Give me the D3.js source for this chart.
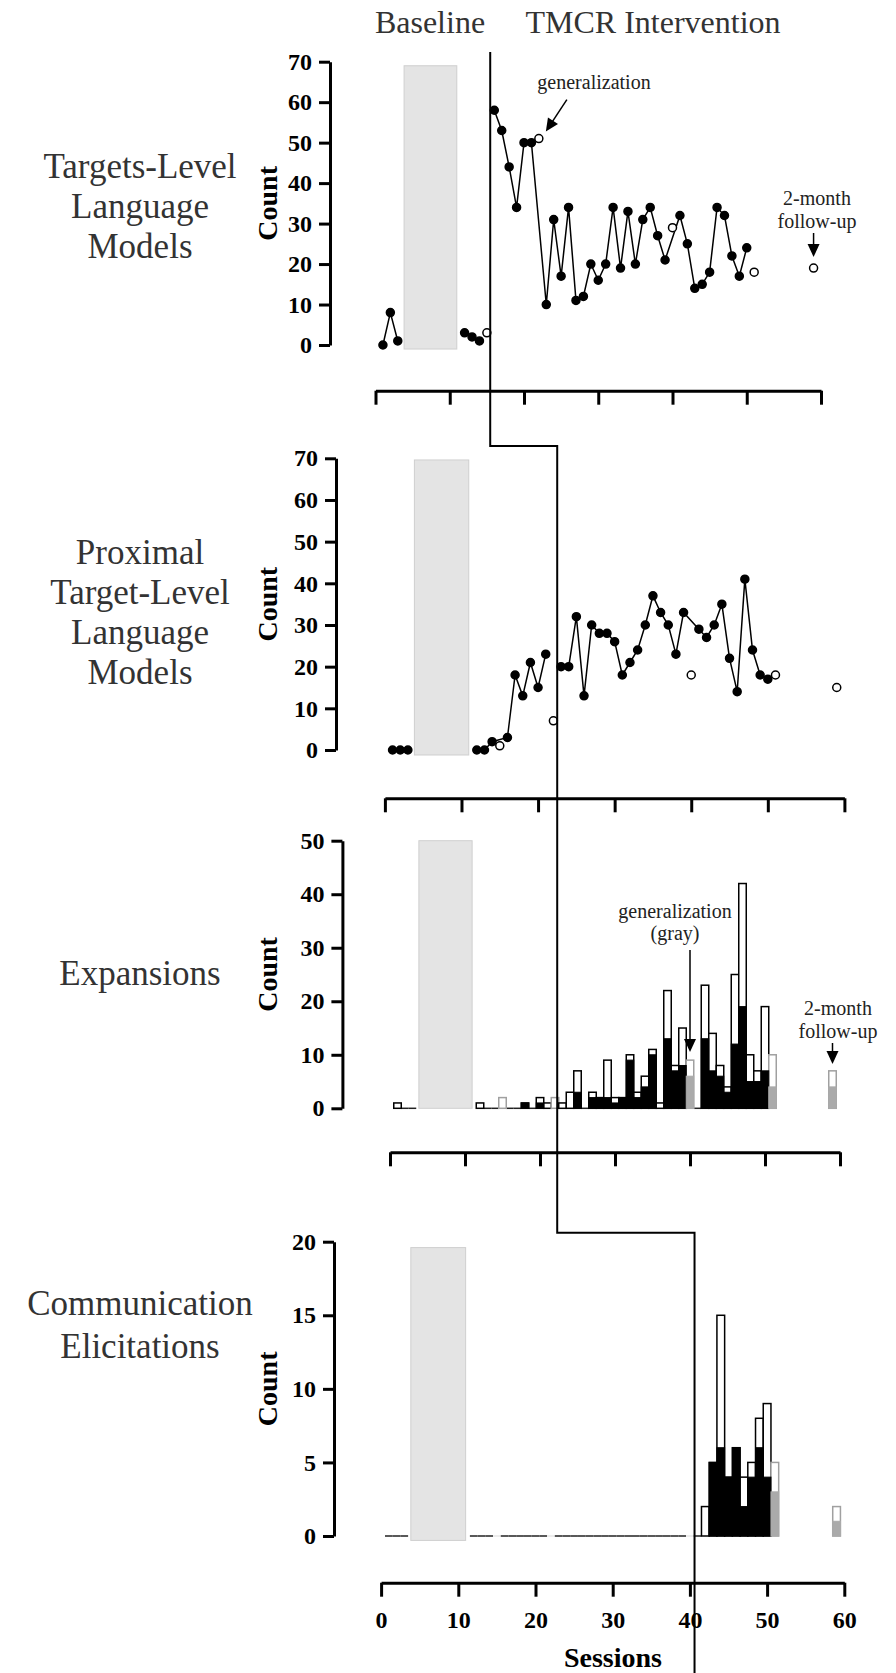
<!DOCTYPE html>
<html>
<head>
<meta charset="utf-8">
<script src="https://cdn.jsdelivr.net/npm/d3@7"></script>
<style>
  body { margin: 0; background: #fff; }
  svg text { font-family: "Liberation Serif", "Times New Roman", serif; }
</style>
</head>
<body>
<div id="chart"></div>
<script>
// sessions that were run (4-11 fall in the gray gap)
const sessions = [1, 2, 3, 12, 13, 14, 15, 16, 17, 18, 19, 20, 21, 22, 23, 24, 25, 26, 27, 28, 29, 30,
    31, 32, 33, 34, 35, 36, 37, 38, 39, 40, 41, 42, 43, 44, 45, 46, 47, 48, 49, 50, 51, 59];
// generalization probes (open circles / gray bars)
const probeSessions = [15, 22, 40, 51, 59];

const targetModels = [0, 8, 1, 3, 2, 1, 3, 58, 53, 44, 34, 50, 50, 51, 10, 31, 17, 34, 11, 12, 20, 16,
    20, 34, 19, 33, 20, 31, 34, 27, 21, 29, 32, 25, 14, 15, 18, 34, 32, 22, 17, 24, 18, 19];
const proximalModels = [0, 0, 0, 0, 0, 2, 1, 3, 18, 13, 21, 15, 23, 7, 20, 20, 32, 13, 30, 28, 28, 26,
    18, 21, 24, 30, 37, 33, 30, 23, 33, 18, 29, 27, 30, 35, 22, 14, 41, 24, 18, 17, 18, 15];
// bar totals (white) and trained part (black, gray on probes)
const expansionsTotal = [1, 0, 0, 1, 0, 0, 2, 0, 0, 1, 0, 2, 1, 2, 1, 3, 7, 0, 3, 2, 9, 2,
    2, 10, 3, 6, 11, 1, 22, 8, 15, 9, 0, 23, 14, 8, 4, 25, 42, 10, 7, 19, 10, 7];
const expansionsPart = [0, 0, 0, 0, 0, 0, 0, 0, 0, 1, 0, 1, 0, 0, 0, 0, 3, 0, 2, 2, 2, 1,
    2, 9, 2, 4, 10, 0, 13, 7, 8, 6, 0, 13, 7, 6, 3, 12, 19, 5, 5, 7, 4, 4];
const elicitTotal = [0, 0, 0, 0, 0, 0, 0, 0, 0, 0, 0, 0, 0, 0, 0, 0, 0, 0, 0, 0, 0, 0,
    0, 0, 0, 0, 0, 0, 0, 0, 0, 0, 0, 2, 5, 15, 4, 6, 4, 5, 8, 9, 5, 2];
const elicitPart = [0, 0, 0, 0, 0, 0, 0, 0, 0, 0, 0, 0, 0, 0, 0, 0, 0, 0, 0, 0, 0, 0,
    0, 0, 0, 0, 0, 0, 0, 0, 0, 0, 0, 0, 5, 6, 4, 6, 2, 4, 6, 4, 3, 1];

const sessionTicks = [0, 10, 20, 30, 40, 50, 60];
const countTicks70 = [0, 10, 20, 30, 40, 50, 60, 70];
const countTicks50 = [0, 10, 20, 30, 40, 50];
const countTicks20 = [0, 5, 10, 15, 20];
const phaseChange = [15.45, 22.5, 22.5, 40.6];
const breakSessions = [3.85, 10.95];

const panelSpecs = [
    { label: ["Targets-Level", "Language", "Models"], ticks: countTicks70, top: 61.7, bottom: 345,
      axisX: 330, left: 375.5, right: 821, xAxisY: 390.7, labelY: 206, lineGap: 40, gray: [-1, 69] },
    { label: ["Proximal", "Target-Level", "Language", "Models"], ticks: countTicks70, top: 458.3, bottom: 750,
      axisX: 336, left: 384.9, right: 844.4, xAxisY: 798.3, labelY: 612, lineGap: 40, gray: [-1.2, 69.6] },
    { label: ["Expansions"], ticks: countTicks50, top: 840.7, bottom: 1108.3,
      axisX: 342.4, left: 390, right: 840, xAxisY: 1152.3, labelY: 973, lineGap: 40, gray: [0, 50] },
    { label: ["Communication", "Elicitations"], ticks: countTicks20, top: 1241.7, bottom: 1536,
      axisX: 334, left: 381.1, right: 844.3, xAxisY: 1582.7, labelY: 1324, lineGap: 43, gray: [-0.3, 19.6] }
];

const width = 896, height = 1673;
const svg = d3.select("#chart").append("svg")
    .attr("width", width)
    .attr("height", height);

const isProbe = s => probeSessions.includes(s);

function arrow(x1, y1, x2, y2) {
    const len = Math.hypot(x2 - x1, y2 - y1);
    const ux = (x2 - x1) / len, uy = (y2 - y1) / len;
    const hl = 13, hw = 6;
    svg.append("line")
        .attr("x1", x1).attr("y1", y1)
        .attr("x2", x2 - ux * hl * 0.8).attr("y2", y2 - uy * hl * 0.8)
        .attr("stroke", "#000").attr("stroke-width", 1.5);
    const bx = x2 - ux * hl, by = y2 - uy * hl;
    svg.append("polygon")
        .attr("points", `${x2},${y2} ${bx - uy * hw},${by + ux * hw} ${bx + uy * hw},${by - ux * hw}`)
        .attr("fill", "#000");
}

const scales = panelSpecs.map((p, i) => {
    const x = d3.scaleLinear().domain([0, 60]).range([p.left, p.right]);
    const yMax = p.ticks[p.ticks.length - 1];
    const y = d3.scaleLinear().domain([0, yMax]).range([p.bottom, p.top]);
    const g = svg.append("g");

    // gray gap between the two baseline blocks
    g.append("rect")
        .attr("x", x(breakSessions[0]))
        .attr("width", x(breakSessions[1]) - x(breakSessions[0]))
        .attr("y", y(p.gray[1]))
        .attr("height", y(p.gray[0]) - y(p.gray[1]))
        .attr("fill", "#e4e4e4")
        .attr("stroke", "#cfcfcf");

    // y axis
    g.append("g")
        .attr("transform", `translate(${p.axisX},0)`)
        .call(d3.axisLeft(y).tickValues(p.ticks).tickSize(11).tickSizeOuter(0).tickPadding(7))
        .attr("font-size", 24)
        .attr("font-family", "Liberation Serif")
        .attr("font-weight", "bold")
        .call(a => a.selectAll("path, line").attr("stroke-width", 3));

    // x axis, labels only on the last panel
    const xAxis = d3.axisBottom(x).tickValues(sessionTicks).tickSize(14).tickSizeOuter(0).tickPadding(14);
    if (i < 3) xAxis.tickFormat("");
    g.append("g")
        .attr("transform", `translate(0,${p.xAxisY})`)
        .call(xAxis)
        .attr("font-size", 24)
        .attr("font-family", "Liberation Serif")
        .attr("font-weight", "bold")
        .call(a => a.selectAll("path, line").attr("stroke-width", 3));

    g.append("text")
        .attr("transform", `translate(277,${(p.top + p.bottom) / 2}) rotate(-90)`)
        .attr("text-anchor", "middle")
        .attr("font-size", 28)
        .attr("font-weight", "bold")
        .text("Count");

    const n = p.label.length;
    g.selectAll(".row-label")
        .data(p.label)
        .join("text")
        .attr("class", "row-label")
        .attr("x", 140)
        .attr("y", (d, k) => p.labelY + (k - (n - 1) / 2) * p.lineGap + 12)
        .attr("text-anchor", "middle")
        .attr("font-size", 35)
        .attr("fill", "#333")
        .text(d => d);

    return { x, y, g };
});

function drawLinePanel(sc, values, phase) {
    const pts = sessions.map((s, i) => ({ s, v: values[i], probe: isProbe(s) }));
    const seg = d => (d.s > breakSessions[1] ? 1 : 0) + (d.s > phase ? 1 : 0);
    const groups = d3.groups(pts.filter(d => !d.probe), seg);
    const line = d3.line().x(d => sc.x(d.s)).y(d => sc.y(d.v));

    sc.g.selectAll(".seg")
        .data(groups)
        .join("path")
        .attr("class", "seg")
        .attr("d", d => line(d[1]))
        .attr("fill", "none")
        .attr("stroke", "#000")
        .attr("stroke-width", 1.5);

    sc.g.selectAll(".dot")
        .data(pts)
        .join("circle")
        .attr("class", "dot")
        .attr("cx", d => sc.x(d.s))
        .attr("cy", d => sc.y(d.v))
        .attr("r", 4)
        .attr("fill", d => d.probe ? "#fff" : "#000")
        .attr("stroke", "#000")
        .attr("stroke-width", 1.5);
}

function drawBarPanel(sc, totals, parts) {
    const bw = sc.x(1) - sc.x(0);
    const bars = sessions.map((s, i) => ({ s, total: totals[i], part: parts[i], probe: isProbe(s) }));

    // empty sessions show as a flat line
    sc.g.selectAll(".zero")
        .data(bars.filter(d => d.total === 0))
        .join("line")
        .attr("class", "zero")
        .attr("x1", d => sc.x(d.s) - bw / 2)
        .attr("x2", d => sc.x(d.s) + bw / 2)
        .attr("y1", sc.y(0))
        .attr("y2", sc.y(0))
        .attr("stroke", d => d.probe ? "#e6e6e6" : "#222")
        .attr("stroke-width", 1.5);

    sc.g.selectAll(".total")
        .data(bars.filter(d => d.total > 0))
        .join("rect")
        .attr("class", "total")
        .attr("x", d => sc.x(d.s) - bw / 2)
        .attr("width", bw)
        .attr("y", d => sc.y(d.total))
        .attr("height", d => sc.y(0) - sc.y(d.total))
        .attr("fill", "#fff")
        .attr("stroke", d => d.probe ? "#a0a0a0" : "#000")
        .attr("stroke-width", 1.5);

    sc.g.selectAll(".part")
        .data(bars.filter(d => d.part > 0))
        .join("rect")
        .attr("class", "part")
        .attr("x", d => sc.x(d.s) - bw / 2)
        .attr("width", bw)
        .attr("y", d => sc.y(d.part))
        .attr("height", d => sc.y(0) - sc.y(d.part))
        .attr("fill", d => d.probe ? "#aaaaaa" : "#000")
        .attr("stroke", d => d.probe ? "#aaaaaa" : "#000")
        .attr("stroke-width", 1);
}

drawLinePanel(scales[0], targetModels, phaseChange[0]);
drawLinePanel(scales[1], proximalModels, phaseChange[1]);
drawBarPanel(scales[2], expansionsTotal, expansionsPart);
drawBarPanel(scales[3], elicitTotal, elicitPart);

// staggered phase-change line
const px1 = scales[0].x(phaseChange[0]);
const px2 = scales[1].x(phaseChange[1]);
const px4 = scales[3].x(phaseChange[3]);
svg.append("path")
    .attr("d", `M${px1},52 V446 H${px2} V1232.7 H${px4} V${height}`)
    .attr("fill", "none")
    .attr("stroke", "#000")
    .attr("stroke-width", 2);

// phase titles
svg.append("text").attr("x", 430).attr("y", 33).attr("text-anchor", "middle")
    .attr("font-size", 32).attr("fill", "#333").text("Baseline");
svg.append("text").attr("x", 653).attr("y", 33).attr("text-anchor", "middle")
    .attr("font-size", 32).attr("fill", "#333").text("TMCR Intervention");

// annotations
const note = (x, y, t) => svg.append("text").attr("x", x).attr("y", y)
    .attr("text-anchor", "middle").attr("font-size", 20).attr("fill", "#222").text(t);

const s0 = scales[0], s2 = scales[2];
note(594, 89, "generalization");
arrow(s0.x(22) + 28, s0.y(51) - 39, s0.x(22) + 7, s0.y(51) - 7);
note(817, 205, "2-month");
note(817, 228, "follow-up");
arrow(s0.x(59), 233, s0.x(59), 257);

note(675, 918, "generalization");
note(675, 940, "(gray)");
arrow(s2.x(40), 950, s2.x(40), 1052);
note(838, 1015, "2-month");
note(838, 1038, "follow-up");
arrow(s2.x(59), 1043, s2.x(59), 1064);

svg.append("text").attr("x", 613).attr("y", 1667).attr("text-anchor", "middle")
    .attr("font-size", 28).attr("font-weight", "bold").text("Sessions");
</script>
</body>
</html>
